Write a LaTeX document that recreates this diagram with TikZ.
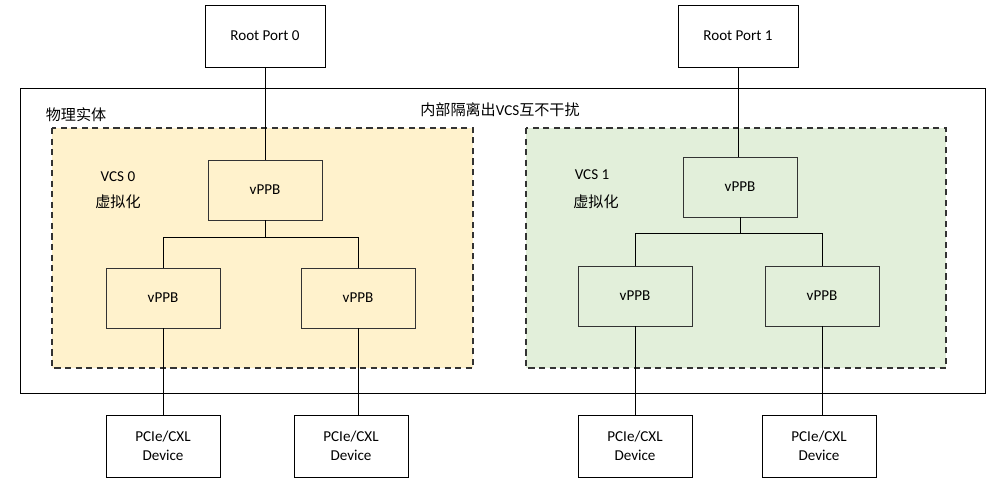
\documentclass[tikz,border=0pt]{standalone}
\usepackage{fontspec}
\setmainfont{Carlito}
\newfontfamily\cjk{Noto Sans CJK SC}
\usetikzlibrary{positioning}
\definecolor{vcsyellow}{HTML}{FFF2CC}
\definecolor{vcsgreen}{HTML}{E2EFDA}
\tikzset{
  box/.style={draw, fill=white, minimum width=2.28cm, minimum height=1.2cm, font=\fontsize{8.6}{10.5}\selectfont, align=center},
  vppb/.style={box, draw=black!80, fill=none},
  vcs/.style={draw=black!80, dash pattern=on 3.5pt off 2.5pt, line width=0.6pt},
  lbl/.style={font=\fontsize{8.6}{10.5}\selectfont}
}
\begin{document}
\begin{tikzpicture}[x=0.02cm, y=-0.02cm, line width=0.5pt]
        \useasboundingbox (0,0) rectangle (994,483);
        % outer box and VCS areas
        \draw (20,88) rectangle (985,393);
        \draw[vcs, fill=vcsyellow] (52,128) rectangle (473,368);
        \draw[vcs, fill=vcsgreen] (526,128) rectangle (946,368);
        \node[lbl] (phys) at (76,115) {\cjk 物理实体};
        \node[lbl] (iso) at (500,110) {{\cjk 内部隔离出}VCS{\cjk 互不干扰}};
        \node[lbl] (vcs0) at (118,177) {VCS 0};
        \node[lbl] (virt0) at (118,202) {\cjk 虚拟化};
        \node[lbl] (vcs1) at (592,175) {VCS 1};
        \node[lbl] (virt1) at (596,202) {\cjk 虚拟化};

        % root ports
        \node[box, minimum width=2.4cm, minimum height=1.24cm] (rp0) at (265,36) {Root Port 0};
        \node[box, minimum width=2.4cm, minimum height=1.24cm] (rp1) at (738,36) {Root Port 1};

        % VCS 0
        \node[vppb] (va) at (265,190) {vPPB};
        \node[vppb] (va1) at (163,298) {vPPB};
        \node[vppb] (va2) at (358,298) {vPPB};
        % VCS 1
        \node[vppb] (vb) at (740,187) {vPPB};
        \node[vppb] (vb1) at (635,296) {vPPB};
        \node[vppb] (vb2) at (822,296) {vPPB};

        % devices
        \node[box, minimum height=1.24cm] (d0) at (163,446) {PCIe/CXL\\Device};
        \node[box, minimum height=1.24cm] (d1) at (351,446) {PCIe/CXL\\Device};
        \node[box, minimum height=1.24cm] (d2) at (635,446) {PCIe/CXL\\Device};
        \node[box, minimum height=1.24cm] (d3) at (819,446) {PCIe/CXL\\Device};

        \draw (rp0) -- (va);
        \draw (rp1.south) -- (rp1.south |- vb.north);
        \draw (va.south) -- ++(0,17) coordinate (busa);
        \draw (va1.north) |- (busa) -| (va2.north);
        \draw (vb.south) -- ++(0,16) coordinate (busb);
        \draw (vb1.north) |- (busb) -| (vb2.north);

        \draw (va1) -- (d0);
        \draw (va2.south) -- (va2.south |- d1.north);
        \draw (vb1) -- (d2);
        \draw (vb2.south) -- (vb2.south |- d3.north);
\end{tikzpicture}
\end{document}
